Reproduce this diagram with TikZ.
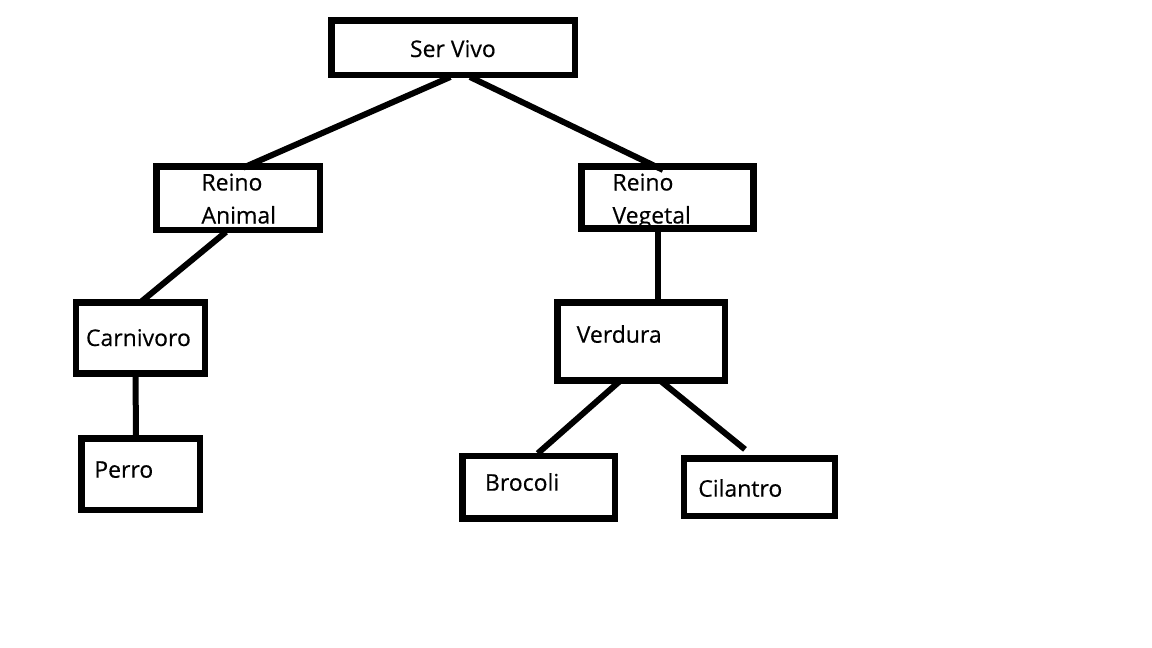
\documentclass[tikz,border=0pt]{standalone}
\usepackage{fontspec}
\setmainfont{Open Sans}
\newfontfamily\lblfont{Open Sans}[FakeBold=0.35]
\begin{document}
\begin{tikzpicture}[x=1pt,y=-1pt,
  box/.style={draw=black,line width=6.5pt,fill=white,inner sep=0pt,outer sep=0pt},
  lbl/.style={inner sep=0pt,outer sep=0pt,anchor=base west,font=\lblfont\fontsize{23}{27}\selectfont},
  conn/.style={draw=black,line width=6pt}]
\useasboundingbox[fill=white] (0,0) rectangle (1152,648);
\node[box,minimum width=243.5pt,minimum height=54.5pt] (sv) at (453.3,47.75) {};
\node[box,minimum width=163.3pt,minimum height=63.3pt] (ra) at (238.3,198.3) {};
\node[box,minimum width=171.7pt,minimum height=61.7pt] (rv) at (667.5,197.5) {};
\node[box,minimum width=129pt,minimum height=71pt] (ca) at (140.5,338.2) {};
\node[box,minimum width=118.3pt,minimum height=71.7pt] (pe) at (140.8,474.2) {};
\node[box,minimum width=167.3pt,minimum height=78pt] (vd) at (641.3,341.7) {};
\node[box,minimum width=152.3pt,minimum height=62.3pt] (br) at (538.8,487.2) {};
\node[box,minimum width=151pt,minimum height=57.7pt] (ci) at (759.5,487.2) {};
\coordinate (cifree) at ([xshift=-14.5pt,yshift=9pt]ci.north);
\draw[conn] ([xshift=-3pt,yshift=-2pt]sv.south) -- ([xshift=5pt,yshift=-1pt]ra.north);
\draw[conn] ([xshift=16.7pt,yshift=-2pt]sv.south) -- ([xshift=-4.5pt,yshift=-3.3pt]rv.north);
\draw[conn] ([xshift=-12.3pt,yshift=-2pt]ra.south) -- ([xshift=-0.5pt]ca.north);
\draw[conn] ([xshift=-9.5pt]rv.south) -- ([xshift=16.7pt]vd.north);
\draw[conn] ([xshift=-4.8pt]ca.south) -- ([xshift=-5pt]pe.north);
\draw[conn] ([xshift=-21pt]vd.south) -- ([xshift=-1pt,yshift=2.7pt]br.north);
\draw[conn] ([xshift=19pt]vd.south) -- (cifree);
\node[lbl] (tsv) at (410,57) {Ser Vivo};
\node[lbl] (tra1) at (201.5,190.5) {Reino};
\node[lbl] (tra2) at (201.5,223.5) {Animal};
\node[lbl] (trv1) at (612.5,190.5) {Reino};
\node[lbl] (trv2) at (612.5,223.5) {Vegetal};
\node[lbl] (tca) at (86,346) {Carnivoro};
\node[lbl] (tpe) at (94.3,477.7) {Perro};
\node[lbl] (tvd) at (576.7,342.7) {Verdura};
\node[lbl] (tbr) at (485,490.7) {Brocoli};
\node[lbl] (tci) at (698.3,496.7) {Cilantro};
\end{tikzpicture}
\end{document}
